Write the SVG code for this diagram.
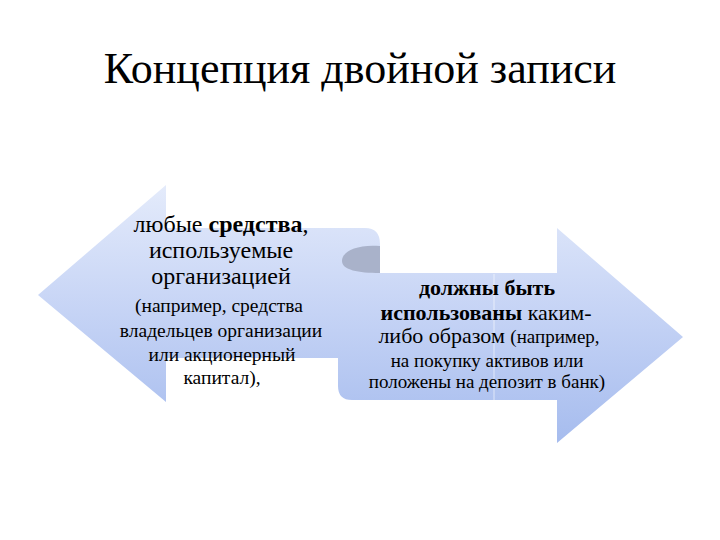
<svg xmlns="http://www.w3.org/2000/svg" width="720" height="540" viewBox="0 0 720 540">
<defs>
<linearGradient id="g" gradientUnits="userSpaceOnUse" x1="0" y1="185" x2="0" y2="443">
<stop offset="0" stop-color="#e4ebfb"/>
<stop offset="0.5" stop-color="#c5d3f5"/>
<stop offset="1" stop-color="#a6bcee"/>
</linearGradient>
<style>
.t{font-family:'Liberation Serif','Times New Roman',serif;fill:#000;text-anchor:middle}
.b{font-weight:bold}
</style>
</defs>
<rect width="720" height="540" fill="#fff"/>
<g id="title">
<text class="t" x="360" y="83" font-size="44">Концепция двойной записи</text>
</g>
<g id="arrows">
<path d="M38,295 L166,185 L166,228 L365,228 Q380,228 380,244 L380,273 L557,273 L557,228 L683,337 L557,443 L557,400 L352,400 Q338,400 338,386 L338,358 L166,358 L166,402 Z" fill="url(#g)"/>
<path d="M380,246 C358,244 342,251 342,261 C342,270 358,273 380,273 Z" fill="#a9b2ca"/>
<line x1="494" y1="274" x2="494" y2="400" stroke="#ffffff" stroke-opacity="0.6" stroke-width="1"/>
</g>
<g id="left-text">
<text class="t" x="221" y="232" font-size="24">любые <tspan class="b">средства</tspan>,</text>
<text class="t" x="221" y="258" font-size="24">используемые</text>
<text class="t" x="221" y="284" font-size="24">организацией</text>
<text class="t" x="219" y="312" font-size="19.5">(например, средства</text>
<text class="t" x="221" y="337" font-size="19.5">владельцев организации</text>
<text class="t" x="222" y="361" font-size="19.5">или акционерный</text>
<text class="t" x="222" y="384" font-size="19.5">капитал),</text>
</g>
<g id="right-text">
<text class="t b" x="487" y="295" font-size="22">должны быть</text>
<text class="t" x="486" y="320" font-size="22"><tspan class="b">использованы</tspan> каким-</text>
<text class="t" x="489" y="343" font-size="22">либо образом <tspan font-size="19">(например,</tspan></text>
<text class="t" x="487" y="367" font-size="19">на покупку активов или</text>
<text class="t" x="487" y="388" font-size="19">положены на депозит в банк)</text>
</g>
</svg>
